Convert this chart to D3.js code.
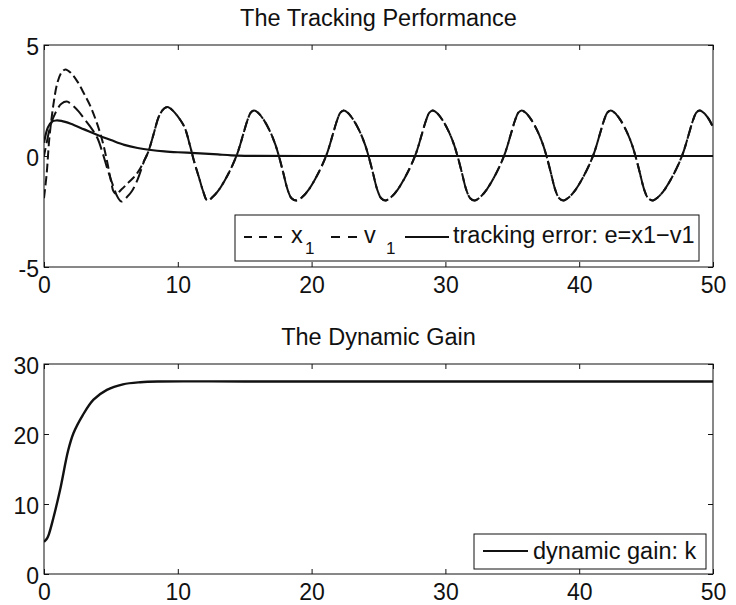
<!DOCTYPE html>
<html>
<head>
<meta charset="utf-8">
<script src="https://cdn.jsdelivr.net/npm/d3@7/dist/d3.min.js"></script>
<style>
  html, body { margin: 0; padding: 0; background: #fff; }
  svg { display: block; }
  text { font-family: "Liberation Sans", Arial, Helvetica, sans-serif; fill: #111; }
</style>
</head>
<body>
<svg id="chart" width="736" height="605"></svg>
<script>
// ---------------- data ----------------
const titleTop = "The Tracking Performance";
const titleBottom = "The Dynamic Gain";
const xTicks = [0, 10, 20, 30, 40, 50];
const yTicksTop = [-5, 0, 5];
const yTicksBottom = [0, 10, 20, 30];

// x1: early transient (t, value)
const x1Early = [[0,-1.9],[0.2,-0.8],[0.4,0.8],[0.7,2.3],[1.0,3.3],[1.3,3.75],[1.6,3.9],[2.0,3.75],[2.5,3.35],
  [3.0,2.8],[3.5,2.2],[4.0,1.4],[4.4,0.6],[4.7,-0.2],[5.0,-1.1],[5.2,-1.6],[5.4,-1.7],[5.8,-1.5],[6.3,-1.2],
  [6.8,-0.9],[7.2,-0.55]];
// v1: early transient (t, value)
const v1Early = [[0,0],[0.2,0.6],[0.5,1.4],[0.9,2.0],[1.3,2.35],[1.7,2.45],[2.1,2.3],[2.6,2.0],[3.1,1.6],
  [3.6,1.2],[4.0,0.8],[4.4,0.1],[4.8,-0.7],[5.2,-1.4],[5.5,-1.85],[5.8,-2.05],[6.2,-1.85],[6.6,-1.55],[7.0,-1.05]];
// after t~7.5 x1 and v1 coincide (t, value)
const trackedTail = [[7.5,-0.2],[7.8,0.2],[8.2,1.0],[8.6,1.8],[9.0,2.15],[9.3,2.2],[9.7,2.0],[10.1,1.7],[10.5,1.3],
  [10.9,0.5],[11.2,-0.2],[11.6,-1.0],[11.9,-1.6],
  [12.2,-2.0],[12.6,-1.85],[13.1,-1.5],[13.6,-1.0],[14.1,-0.4],[14.5,0.2],[14.9,1.0],[15.2,1.6],[15.45,1.95],[15.7,2.05],
  [16.0,1.95],[16.4,1.65],[16.9,1.1],[17.3,0.5],[17.6,-0.1],[17.9,-0.8],[18.2,-1.5],[18.5,-1.9],
  [18.9,-2.0],[19.3,-1.85],[19.8,-1.5],[20.3,-1.0],[20.8,-0.4],[21.2,0.2],[21.6,1.0],[21.9,1.6],[22.15,1.95],[22.4,2.05],
  [22.7,1.95],[23.1,1.65],[23.6,1.1],[24.0,0.5],[24.3,-0.1],[24.6,-0.8],[24.9,-1.5],[25.2,-1.9],
  [25.55,-2.0],[25.95,-1.85],[26.45,-1.5],[26.95,-1.0],[27.45,-0.4],[27.85,0.2],[28.25,1.0],[28.55,1.6],[28.8,1.95],[29.05,2.05],
  [29.35,1.95],[29.75,1.65],[30.25,1.1],[30.65,0.5],[30.95,-0.1],[31.25,-0.8],[31.55,-1.5],[31.85,-1.9],
  [32.2,-2.0],[32.6,-1.85],[33.1,-1.5],[33.6,-1.0],[34.1,-0.4],[34.5,0.2],[34.9,1.0],[35.2,1.6],[35.45,1.95],[35.7,2.05],
  [36.0,1.95],[36.4,1.65],[36.9,1.1],[37.3,0.5],[37.6,-0.1],[37.9,-0.8],[38.2,-1.5],[38.5,-1.9],
  [38.85,-2.0],[39.25,-1.85],[39.75,-1.5],[40.25,-1.0],[40.75,-0.4],[41.15,0.2],[41.55,1.0],[41.85,1.6],[42.1,1.95],[42.35,2.05],
  [42.65,1.95],[43.05,1.65],[43.55,1.1],[43.95,0.5],[44.25,-0.1],[44.55,-0.8],[44.85,-1.5],[45.15,-1.9],
  [45.5,-2.0],[45.9,-1.85],[46.4,-1.5],[46.9,-1.0],[47.4,-0.4],[47.8,0.2],[48.2,1.0],[48.5,1.6],[48.75,1.95],[49.0,2.05],
  [49.3,1.95],[49.7,1.65],[50.0,1.3]];
// tracking error e = x1 - v1 (t, value)
const errorSeries = [[0,0.6],[0.3,1.3],[0.6,1.55],[0.9,1.6],[1.3,1.58],[2.0,1.45],[3.0,1.2],[4.0,0.95],[5.0,0.72],
  [6.0,0.5],[7.0,0.36],[8.0,0.27],[9.0,0.21],[10.0,0.17],[11.0,0.14],[12.0,0.11],[13.0,0.07],[14.0,0.03],[15.0,0.01],
  [20,0],[30,0],[40,0],[50,0]];
// dynamic gain k (t, value)
const gainSeries = [[0,4.6],[0.2,5.0],[0.35,5.6],[0.7,8.0],[1.2,12.0],[1.8,17.6],[2.2,20.1],[2.9,22.7],[3.7,24.9],
  [4.7,26.3],[5.9,27.1],[7.2,27.4],[8.6,27.5],[15,27.5],[30,27.5],[50,27.5]];

const legendTop = ["x", "v", "tracking error: e=x1\u2212v1"];
const legendBottom = ["dynamic gain: k"];

// ---------------- layout ----------------
const svg = d3.select("#chart");
const L = 44, R = 713;
const topPanel = {top: 45, bottom: 267};
const botPanel = {top: 364, bottom: 574};
const ink = "#111";
const fontTick = 23, fontText = 23.5;

const x = d3.scaleLinear().domain([0, 50]).range([L, R]);
const yTop = d3.scaleLinear().domain([-5, 5]).range([topPanel.bottom, topPanel.top]);
const yBot = d3.scaleLinear().domain([0, 30]).range([botPanel.bottom, botPanel.top]);

const fmt = d => d < 0 ? "-" + Math.abs(d) : String(d);

function drawPanel(panel, y, yTicks, id) {
  const g = svg.append("g");
  // clip
  svg.append("clipPath").attr("id", id)
    .append("rect").attr("x", L).attr("y", panel.top).attr("width", R - L).attr("height", panel.bottom - panel.top);
  // bottom axis with labels (inward ticks)
  const ax = g.append("g").attr("transform", `translate(0,${panel.bottom})`)
    .call(d3.axisBottom(x).tickValues(xTicks).tickFormat(fmt).tickSize(-5).tickPadding(10));
  // top axis ticks only
  const axT = g.append("g").attr("transform", `translate(0,${panel.top})`)
    .call(d3.axisTop(x).tickValues(xTicks).tickFormat("").tickSize(-5));
  const ay = g.append("g").attr("transform", `translate(${L},0)`)
    .call(d3.axisLeft(y).tickValues(yTicks).tickFormat(fmt).tickSize(-5).tickPadding(5));
  const ayR = g.append("g").attr("transform", `translate(${R},0)`)
    .call(d3.axisRight(y).tickValues(yTicks).tickFormat("").tickSize(-5));
  [ax, axT, ay, ayR].forEach(a => {
    a.select(".domain").remove();
    a.selectAll("line").attr("stroke", ink).attr("stroke-width", 1);
    a.selectAll("text").attr("font-size", fontTick).attr("fill", ink)
      .style("font-family", '"Liberation Sans", Arial, sans-serif');
  });
  ay.selectAll("text").attr("dy", "0.42em");
  // box
  g.append("rect").attr("x", L).attr("y", panel.top).attr("width", R - L).attr("height", panel.bottom - panel.top)
    .attr("fill", "none").attr("stroke", ink).attr("stroke-width", 1);
  return g;
}

const gTop = drawPanel(topPanel, yTop, yTicksTop, "clipTop");
const gBot = drawPanel(botPanel, yBot, yTicksBottom, "clipBot");

// titles
svg.append("text").attr("x", (L + R) / 2).attr("y", 26).attr("text-anchor", "middle")
  .attr("font-size", fontText).text(titleTop);
svg.append("text").attr("x", (L + R) / 2).attr("y", 345).attr("text-anchor", "middle")
  .attr("font-size", fontText).text(titleBottom);

// lines
const lineTop = d3.line().x(d => x(d[0])).y(d => yTop(d[1])).curve(d3.curveCatmullRom.alpha(0.5));
const lineBot = d3.line().x(d => x(d[0])).y(d => yBot(d[1])).curve(d3.curveCatmullRom.alpha(0.5));

const x1Series = x1Early.concat(trackedTail);
const v1Series = v1Early.concat(trackedTail);

const plotTop = svg.append("g").attr("clip-path", "url(#clipTop)");
plotTop.append("path").datum(x1Series).attr("d", lineTop)
  .attr("fill", "none").attr("stroke", ink).attr("stroke-width", 2).attr("stroke-dasharray", "9,4");
plotTop.append("path").datum(v1Series).attr("d", lineTop)
  .attr("fill", "none").attr("stroke", ink).attr("stroke-width", 2).attr("stroke-dasharray", "14,5")
  .attr("stroke-dashoffset", 6);
plotTop.append("path").datum(errorSeries).attr("d", lineTop)
  .attr("fill", "none").attr("stroke", ink).attr("stroke-width", 2.2);

const plotBot = svg.append("g").attr("clip-path", "url(#clipBot)");
plotBot.append("path").datum(gainSeries).attr("d", lineBot)
  .attr("fill", "none").attr("stroke", ink).attr("stroke-width", 2.4);

// legend top
const lg = svg.append("g");
lg.append("rect").attr("x", 235).attr("y", 215).attr("width", 464).attr("height", 46)
  .attr("fill", "#fff").attr("stroke", ink).attr("stroke-width", 1);
lg.append("line").attr("x1", 244).attr("x2", 289).attr("y1", 237).attr("y2", 237)
  .attr("stroke", ink).attr("stroke-width", 2).attr("stroke-dasharray", "8,7");
lg.append("text").attr("x", 291).attr("y", 243).attr("font-size", fontText).text(legendTop[0]);
lg.append("text").attr("x", 305).attr("y", 254).attr("font-size", 17).text("1");
lg.append("line").attr("x1", 318).attr("x2", 362).attr("y1", 237).attr("y2", 237)
  .attr("stroke", ink).attr("stroke-width", 2).attr("stroke-dasharray", "0,13,9,8,9,20");
lg.append("text").attr("x", 364).attr("y", 243).attr("font-size", fontText).text(legendTop[1]);
lg.append("text").attr("x", 386).attr("y", 254).attr("font-size", 17).text("1");
lg.append("line").attr("x1", 405).attr("x2", 449).attr("y1", 237).attr("y2", 237)
  .attr("stroke", ink).attr("stroke-width", 2);
lg.append("text").attr("x", 453).attr("y", 243).attr("font-size", fontText).text(legendTop[2]);

// legend bottom
const lb = svg.append("g");
lb.append("rect").attr("x", 474).attr("y", 534).attr("width", 232).attr("height", 35)
  .attr("fill", "#fff").attr("stroke", ink).attr("stroke-width", 1);
lb.append("line").attr("x1", 483).attr("x2", 528).attr("y1", 551).attr("y2", 551)
  .attr("stroke", ink).attr("stroke-width", 2.2);
lb.append("text").attr("x", 533).attr("y", 559).attr("font-size", fontText).text(legendBottom[0]);
</script>
</body>
</html>
